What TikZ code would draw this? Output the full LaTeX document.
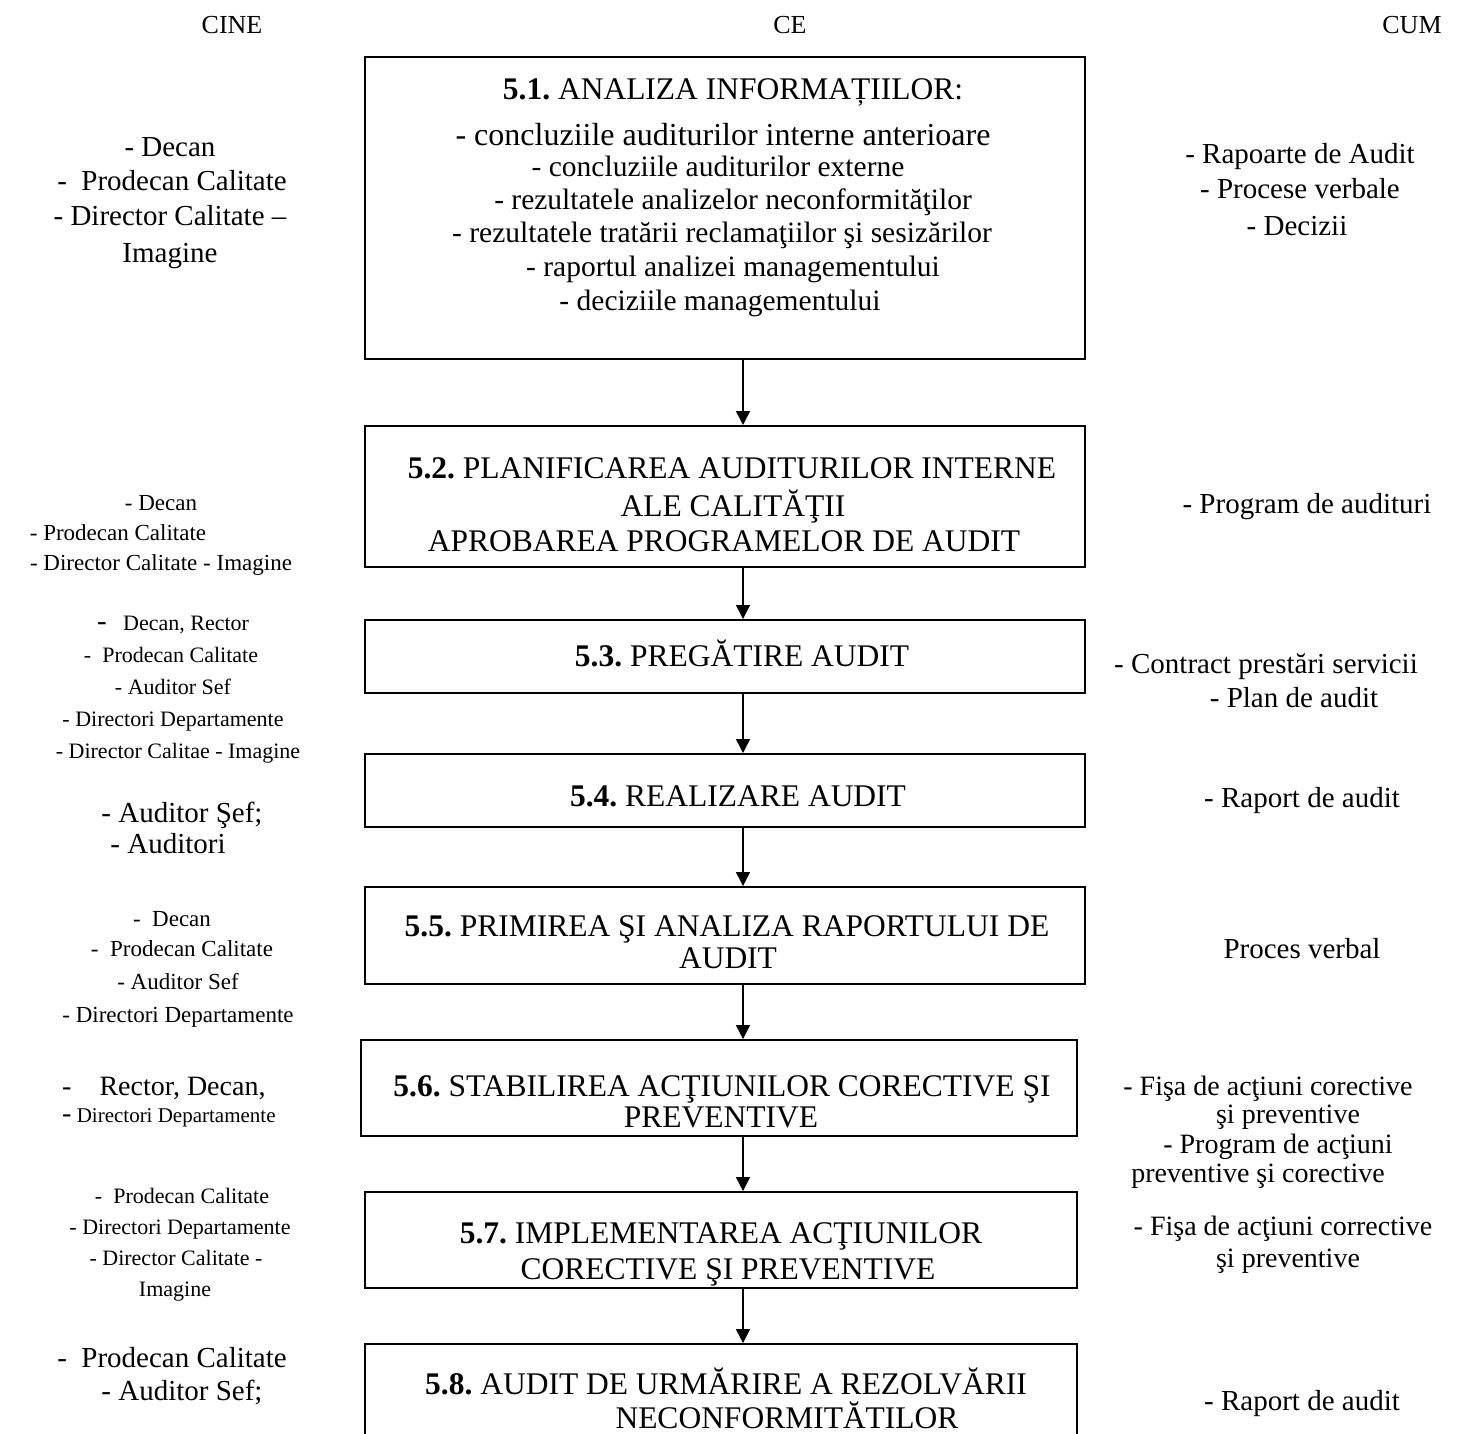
\documentclass[tikz,border=0pt]{standalone}
\usepackage{fontspec}
\setmainfont{Liberation Serif}
\usetikzlibrary{arrows.meta}
\frenchspacing
\tikzset{
  box/.style={draw, line width=1.8pt, anchor=north west, inner sep=0pt},
  lbl/.style={anchor=base, inner sep=0pt, font=\fontsize{#1}{#1}\selectfont},
  arr/.style={line width=1.5pt, -{Triangle[length=14pt,width=14pt]}}
}
\begin{document}
\begin{tikzpicture}[x=1pt,y=-1pt]
\clip (0,0) rectangle (1473,1433);
\fill[white] (0,0) rectangle (1473,1433);
\coordinate (ax) at (743,0);
% headers
\node[lbl=26] (hcine) at (232,33) {CINE};
\node[lbl=26] (hce) at (790,33) {CE};
\node[lbl=26] (hcum) at (1412,33) {CUM};
% boxes
\node[box, minimum width=720, minimum height=302] (b1) at (364,56) {};
\node[box, minimum width=720, minimum height=141] (b2) at (364,425) {};
\node[box, minimum width=720, minimum height=73] (b3) at (364,619) {};
\node[box, minimum width=720, minimum height=73] (b4) at (364,753) {};
\node[box, minimum width=720, minimum height=97] (b5) at (364,886) {};
\node[box, minimum width=716, minimum height=96] (b6) at (360,1039) {};
\node[box, minimum width=712, minimum height=96] (b7) at (364,1191) {};
\node[box, minimum width=712, minimum height=200] (b8) at (364,1343) {};
% arrows
\draw[arr] (b1.south -| ax) -- (b2.north -| ax);
\draw[arr] (b2.south -| ax) -- (b3.north -| ax);
\draw[arr] (b3.south -| ax) -- (b4.north -| ax);
\draw[arr] (b4.south -| ax) -- (b5.north -| ax);
\draw[arr] (b5.south -| ax) -- (b6.north -| ax);
\draw[arr] (b6.south -| ax) -- (b7.north -| ax);
\draw[arr] (b7.south -| ax) -- (b8.north -| ax);
% box 1 text
\node[lbl=31.5] (b1t) at (733,99) {\textbf{5.1.} ANALIZA INFORMAȚIILOR:};
\node[lbl=32] (b1a) at (723,145) {- concluziile auditurilor interne anterioare};
\node[lbl=29.5] (b1b) at (718,176) {- concluziile auditurilor externe};
\node[lbl=29.5] (b1c) at (733,209) {- rezultatele analizelor neconformităţilor};
\node[lbl=29.5] (b1d) at (722,242) {- rezultatele tratării reclamaţiilor şi sesizărilor};
\node[lbl=29.5] (b1e) at (733,276) {- raportul analizei managementului};
\node[lbl=29.5] (b1f) at (720,310) {- deciziile managementului};
% box 2..8 text
\node[lbl=31.5] (b2a) at (732,478) {\textbf{5.2.} PLANIFICAREA AUDITURILOR INTERNE};
\node[lbl=31.5] (b2b) at (733,516) {ALE CALITĂŢII};
\node[lbl=31.5] (b2c) at (724,551) {APROBAREA PROGRAMELOR DE AUDIT};
\node[lbl=31.5] (b3a) at (742,666) {\textbf{5.3.} PREGĂTIRE AUDIT};
\node[lbl=31.5] (b4a) at (738,806) {\textbf{5.4.} REALIZARE AUDIT};
\node[lbl=31.5] (b5a) at (727,936) {\textbf{5.5.} PRIMIREA ŞI ANALIZA RAPORTULUI DE};
\node[lbl=31.5] (b5b) at (728,968) {AUDIT};
\node[lbl=31.5] (b6a) at (722,1096) {\textbf{5.6.} STABILIREA ACŢIUNILOR CORECTIVE ŞI};
\node[lbl=31.5] (b6b) at (721,1127) {PREVENTIVE};
\node[lbl=31.5] (b7a) at (721,1243) {\textbf{5.7.} IMPLEMENTAREA ACŢIUNILOR};
\node[lbl=31.5] (b7b) at (728,1279) {CORECTIVE ŞI PREVENTIVE};
\node[lbl=31.5] (b8a) at (726,1394) {\textbf{5.8.} AUDIT DE URMĂRIRE A REZOLVĂRII};
\node[lbl=31.5] (b8b) at (787,1428) {NECONFORMITĂTILOR};
% CINE column
\node[lbl=29] (c1a) at (170,156) {- Decan};
\node[lbl=29] (c1b) at (172,190) {-\ \ Prodecan Calitate};
\node[lbl=29] (c1c) at (170,225) {- Director Calitate –};
\node[lbl=29] (c1d) at (170,262) {Imagine};
\node[lbl=23] (c2a) at (161,510) {- Decan};
\node[lbl=23] (c2b) at (118,540) {- Prodecan Calitate};
\node[lbl=23] (c2c) at (161,570) {- Director Calitate - Imagine};
\node[lbl=22] (c3a) at (173,630) {{\fontsize{29}{29}\selectfont -}\ \ \ Decan, Rector};
\node[lbl=22] (c3b) at (171,662) {-\ \ Prodecan Calitate};
\node[lbl=22] (c3c) at (173,694) {- Auditor Sef};
\node[lbl=22] (c3d) at (173,726) {- Directori Departamente};
\node[lbl=22] (c3e) at (178,758) {- Director Calitae - Imagine};
\node[lbl=29] (c4a) at (182,822) {- Auditor Şef;};
\node[lbl=29] (c4b) at (168,853) {- Auditori};
\node[lbl=23] (c5a) at (172,926) {-\ \ Decan};
\node[lbl=23] (c5b) at (182,956) {-\ \ Prodecan Calitate};
\node[lbl=23] (c5c) at (178,989) {- Auditor Sef};
\node[lbl=23] (c5d) at (178,1022) {- Directori Departamente};
\node[lbl=28, anchor=base west] (c6a) at (62,1095) {-\ \ \ \ Rector, Decan,};
\node[lbl=21, anchor=base west] (c6b) at (62,1122) {{\fontsize{28}{28}\selectfont -} Directori Departamente};
\node[lbl=22] (c7a) at (182,1203) {-\ \ Prodecan Calitate};
\node[lbl=22] (c7b) at (180,1234) {- Directori Departamente};
\node[lbl=22] (c7c) at (176,1265) {- Director Calitate -};
\node[lbl=22] (c7d) at (175,1296) {Imagine};
\node[lbl=29] (c8a) at (172,1367) {-\ \ Prodecan Calitate};
\node[lbl=29] (c8b) at (182,1400) {- Auditor Sef;};
% CUM column
\node[lbl=29] (m1a) at (1300,163) {- Rapoarte de Audit};
\node[lbl=29] (m1b) at (1300,198) {- Procese verbale};
\node[lbl=29] (m1c) at (1297,235) {- Decizii};
\node[lbl=29] (m2a) at (1307,513) {- Program de audituri};
\node[lbl=29] (m3a) at (1266,673) {- Contract prestări servicii};
\node[lbl=29] (m3b) at (1294,707) {- Plan de audit};
\node[lbl=29] (m4a) at (1302,807) {- Raport de audit};
\node[lbl=29] (m5a) at (1302,958) {Proces verbal};
\node[lbl=28] (m6a) at (1268,1095) {- Fişa de acţiuni corective};
\node[lbl=28] (m6b) at (1288,1123) {şi preventive};
\node[lbl=28] (m6c) at (1278,1153) {- Program de acţiuni};
\node[lbl=28] (m6d) at (1258,1182) {preventive şi corective};
\node[lbl=28] (m7a) at (1283,1235) {- Fişa de acţiuni corrective};
\node[lbl=28] (m7b) at (1288,1267) {şi preventive};
\node[lbl=29] (m8a) at (1302,1410) {- Raport de audit};
\end{tikzpicture}
\end{document}
